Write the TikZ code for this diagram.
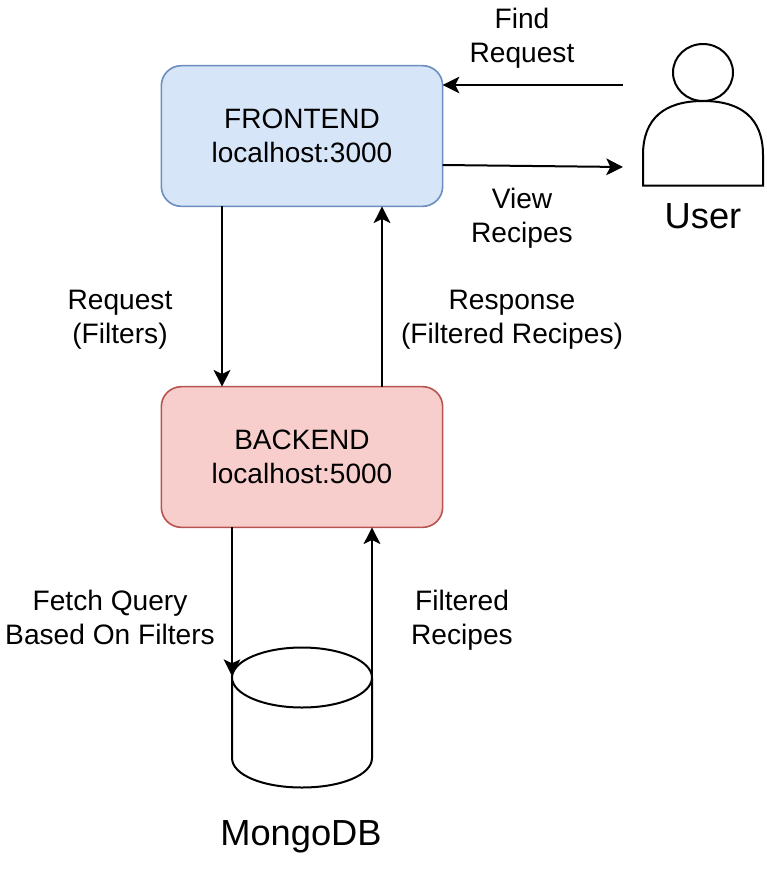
\documentclass[tikz,border=0pt]{standalone}
\usepackage{fontspec}
\setmainfont{Liberation Sans}
\usetikzlibrary{arrows.meta,calc}
\definecolor{fefill}{HTML}{D6E5F8}
\definecolor{fedraw}{HTML}{6C8EBF}
\definecolor{befill}{HTML}{F8CECC}
\definecolor{bedraw}{HTML}{B85450}
\tikzset{
  boxn/.style={rounded corners=15pt,minimum width=211pt,minimum height=105.5pt,line width=1.2pt,align=center,font=\fontsize{21pt}{25.5pt}\selectfont,text=black,inner sep=0pt,outer sep=0pt},
  lab/.style={align=center,font=\fontsize{21.1pt}{25.5pt}\selectfont,text=black,inner sep=0pt},
  big/.style={align=center,font=\fontsize{27.2pt}{30pt}\selectfont,text=black,inner sep=0pt},
  conn/.style={line width=1.5pt,-{Stealth[length=12.5pt,width=12.5pt,inset=3pt]}},
  shp/.style={line width=1.5pt,draw=black,fill=white},
}
\begin{document}
\begin{tikzpicture}[x=0.75pt,y=-0.75pt]
\useasboundingbox (0,0) rectangle (767,872);
\node[boxn,draw=fedraw,fill=fefill] (fe) at (302,136) {FRONTEND\\localhost:3000};
\node[boxn,draw=bedraw,fill=befill] (be) at (302,457) {BACKEND\\localhost:5000};
% user
\coordinate (userin) at (623,85);
\coordinate (userout) at (623,167);
\draw[shp] (643,185.5) -- (643,155) .. controls (643,118) and (665,101) .. (703,101) .. controls (741,101) and (763,118) .. (763,155) -- (763,185.5) -- cycle;
\draw[shp] (703,72.5) ellipse[x radius=30,y radius=28.5];
\node[big] (user) at (703,216) {User};
% db
\coordinate (dbl) at (232,676);
\coordinate (dbr) at (372,678);
\draw[shp] (232,678) -- (232,758) .. controls (232,775) and (263,787.5) .. (302,787.5) .. controls (341,787.5) and (372,775) .. (372,758) -- (372,678);
\draw[shp] (302,677.5) ellipse[x radius=70,y radius=30];
\node[big] (mongo) at (301,837) {MongoDB};
% connectors
\coordinate (xdown) at (222,0);
\coordinate (xup) at (382,0);
\draw[conn] (userin) -- (userin -| fe.east);
\draw[conn] (fe.east |- 0,165) -- (userout);
\draw[conn] (fe.south -| xdown) -- (be.north -| xdown);
\draw[conn] (be.north -| xup) -- (fe.south -| xup);
\draw[conn] (be.south -| dbl) -- (dbl);
\draw[conn] (dbr) -- (be.south -| dbr);
% labels
\node[lab] (l1) at (522,38) {Find\\Request};
\node[lab] (l2) at (522,218.5) {View\\Recipes};
\node[lab] (l3) at (120,320) {Request\\(Filters)};
\node[lab] (l4) at (512,320) {Response\\(Filtered Recipes)};
\node[lab] (l5) at (110,617) {Fetch Query\\Based On Filters};
\node[lab] (l6) at (462,620) {Filtered\\Recipes};
\end{tikzpicture}
\end{document}
